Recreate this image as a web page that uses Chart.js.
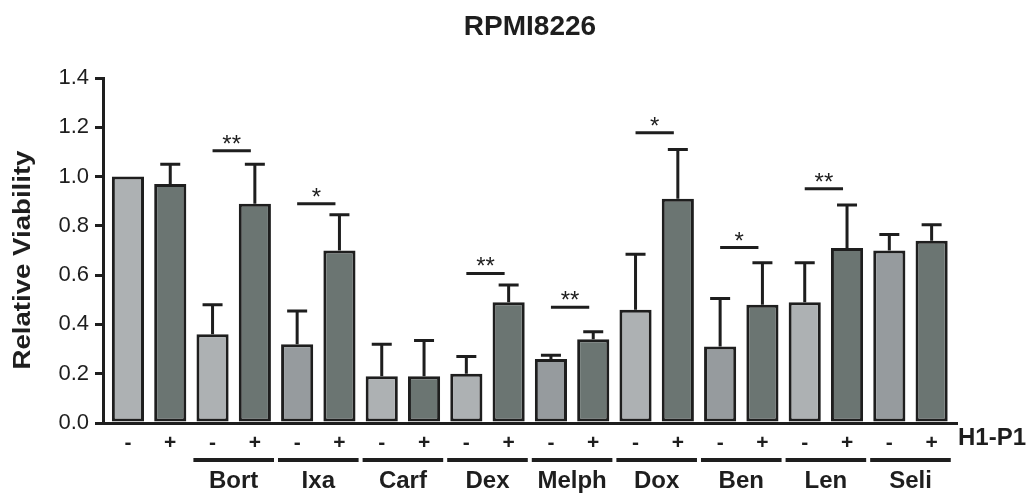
<!DOCTYPE html>
<html>
<head>
<meta charset="utf-8">
<script src="https://cdn.jsdelivr.net/npm/chart.js@4.4.0/dist/chart.umd.min.js"></script>
<style>
html,body{margin:0;padding:0;background:#fff;}
#wrap{width:1032px;height:495px;}
</style>
</head>
<body>
<div id="wrap"><canvas id="c" width="1032" height="495"></canvas></div>
<script>
// data
const chartTitle = "RPMI8226";
const yTitle = "Relative Viability";
const treatLabel = "H1-P1";
const h1p1 = ["-","+","-","+","-","+","-","+","-","+","-","+","-","+","-","+","-","+","-","+"];
const viability = [1.00,0.97,0.36,0.89,0.32,0.70,0.19,0.19,0.20,0.49,0.26,0.34,0.46,0.91,0.31,0.48,0.49,0.71,0.70,0.74];
const sem = [0,0.08,0.12,0.16,0.135,0.145,0.13,0.145,0.07,0.07,0.015,0.03,0.225,0.2,0.195,0.17,0.16,0.175,0.065,0.065];
const drugs = ["Bort","Ixa","Carf","Dex","Melph","Dox","Ben","Len","Seli"];
const sigStart = [2,4,8,10,12,14,16];
const sigLevel = [1.105,0.89,0.607,0.47,1.178,0.712,0.951];
const sigMark = ["**","*","**","**","*","*","**"];
const yTicks = [0,0.2,0.4,0.6,0.8,1.0,1.2,1.4];

const ink = "#1e1e1e";
const light = "#adb1b3", mid = "#969b9e", dark = "#6b7572";
const midBars = [4,10,14,18];
const fills = viability.map((v,i)=> i%2 ? dark : (midBars.includes(i) ? mid : light));
const FONT = "'Liberation Sans', Arial, sans-serif";

const extras = {
  id: "extras",
  afterDatasetsDraw(chart){
    const ctx = chart.ctx;
    const x = chart.scales.x, y = chart.scales.y;
    const half = (x.getPixelForValue(1) - x.getPixelForValue(0)) / 2;
    ctx.save();
    ctx.strokeStyle = ink;
    ctx.fillStyle = ink;
    ctx.lineWidth = 3;
    ctx.lineCap = "butt";
    // error bars (upper only)
    viability.forEach((v,i)=>{
      if(!sem[i]) return;
      const cx = x.getPixelForValue(i);
      const y0 = y.getPixelForValue(v), y1 = y.getPixelForValue(v+sem[i]);
      ctx.beginPath();
      ctx.moveTo(cx, y0); ctx.lineTo(cx, y1);
      ctx.moveTo(cx-10, y1); ctx.lineTo(cx+10, y1);
      ctx.stroke();
    });
    // significance
    ctx.font = "24px " + FONT;
    ctx.textAlign = "center";
    ctx.textBaseline = "alphabetic";
    sigStart.forEach((s,k)=>{
      const xa = x.getPixelForValue(s), xb = x.getPixelForValue(s+1) - 4;
      const yy = y.getPixelForValue(sigLevel[k]);
      ctx.beginPath(); ctx.moveTo(xa, yy); ctx.lineTo(xb, yy); ctx.stroke();
      ctx.fillText(sigMark[k], (xa+xb)/2, yy + 1);
    });
    // drug group lines and names
    ctx.lineWidth = 4;
    ctx.font = "bold 24px " + FONT;
    ctx.textBaseline = "middle";
    drugs.forEach((d,k)=>{
      const i = 2 + 2*k;
      const xa = x.getPixelForValue(i) - half + 2, xb = x.getPixelForValue(i+1) + half - 2;
      ctx.beginPath(); ctx.moveTo(xa, 460); ctx.lineTo(xb, 460); ctx.stroke();
      ctx.fillText(d, (xa+xb)/2, 481);
    });
    // H1-P1 label
    ctx.font = "bold 24px " + FONT;
    ctx.textAlign = "left";
    ctx.fillText(treatLabel, 958, 438);
    // title
    ctx.font = "bold 28px " + FONT;
    ctx.textAlign = "center";
    ctx.fillText(chartTitle, (x.left + x.right)/2, 27);
    // y axis title, slightly widened like the original
    ctx.save();
    ctx.translate(23, 260);
    ctx.rotate(-Math.PI/2);
    ctx.scale(1.15, 1);
    ctx.font = "bold 24px " + FONT;
    ctx.fillText(yTitle, 0, 0);
    ctx.restore();
    ctx.restore();
  }
};

new Chart(document.getElementById("c"), {
  type: "bar",
  data: {
    datasets: [{
      data: viability.map((v,i)=>({ x: i, y: v })),
      backgroundColor: fills,
      borderColor: ink,
      borderWidth: 3,
      borderSkipped: false,
      barPercentage: 0.76,
      categoryPercentage: 1.0
    }]
  },
  options: {
    responsive: false,
    devicePixelRatio: 1,
    animation: false,
    layout: { padding: { top: 78, right: 75, left: 0, bottom: 0 } },
    plugins: { legend: { display: false }, tooltip: { enabled: false } },
    scales: {
      x: {
        type: "linear",
        offset: false,
        min: -0.59, max: 19.6,
        afterBuildTicks: s => { s.ticks = h1p1.map((t,i) => ({ value: i })); },
        grid: { display: false },
        border: { display: true, color: ink, width: 3 },
        ticks: { color: ink, font: { family: FONT, size: 21, weight: "bold" }, padding: 0, maxRotation: 0, autoSkip: false, callback: (v) => h1p1[v] },
        afterFit: s => { s.height = 72; }
      },
      y: {
        min: 0, max: 1.4,
        afterBuildTicks: s => { s.ticks = yTicks.map(v => ({ value: v })); },
        ticks: { color: ink, font: { family: FONT, size: 22 }, padding: 6, callback: v => v.toFixed(1) },
        grid: { drawOnChartArea: false, drawTicks: true, tickLength: 8, lineWidth: 3, color: ink },
        border: { display: true, color: ink, width: 3 },
        afterFit: s => { s.width = 103; }
      }
    }
  },
  plugins: [extras]
});
</script>
</body>
</html>
